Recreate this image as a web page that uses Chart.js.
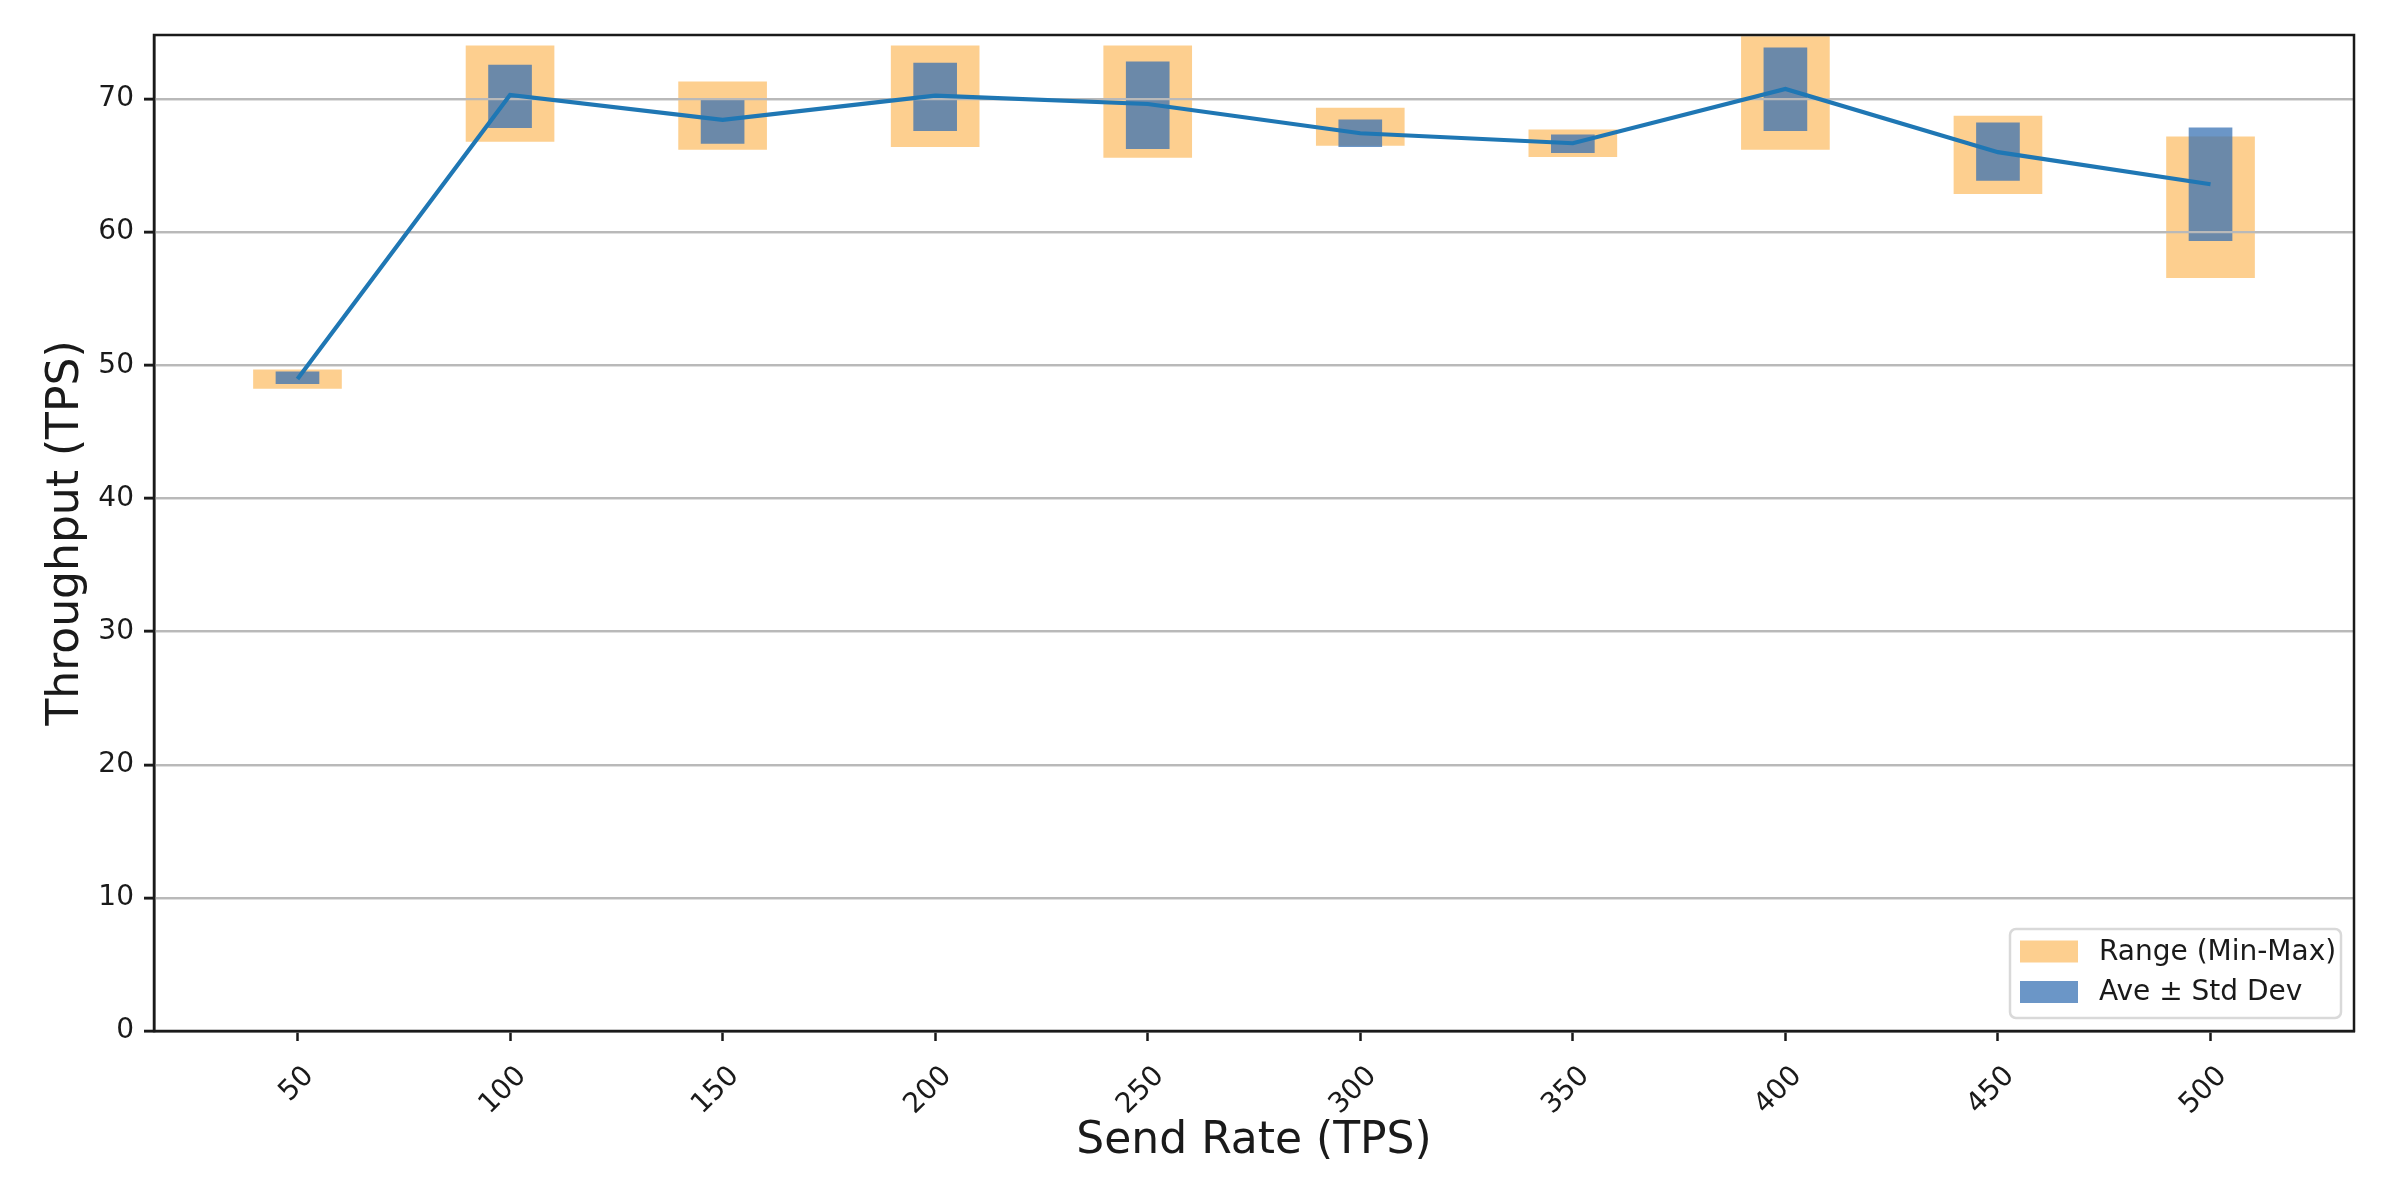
<!DOCTYPE html>
<html>
<head>
<meta charset="utf-8">
<title>Throughput vs Send Rate</title>
<script src="https://cdn.jsdelivr.net/npm/chart.js@4.4.1/dist/chart.umd.min.js"></script>
<style>
  html, body { margin: 0; padding: 0; background: #fff; }
  #wrap { width: 2405px; height: 1188px; }
</style>
</head>
<body>
<div id="wrap"><canvas id="throughputChart" width="2405" height="1188"></canvas></div>
<script>
/* Throughput (TPS) per send rate: min-max range, mean +/- std dev, mean line */

const SEND_RATES = [50, 100, 150, 200, 250, 300, 350, 400, 450, 500];
const RANGE_MIN = [48.25, 66.8, 66.2, 66.42, 65.6, 66.5, 65.67, 66.2, 62.89, 56.58];
const RANGE_MAX = [49.65, 73.98, 71.28, 73.98, 73.98, 69.32, 67.67, 74.68, 68.72, 67.15];
const STD_LOW = [48.62, 67.84, 66.65, 67.62, 66.27, 66.42, 65.97, 67.62, 63.87, 59.36];
const STD_HIGH = [49.5, 72.55, 69.9, 72.7, 72.78, 68.42, 67.3, 73.83, 68.2, 67.82];
const AVERAGE = [48.97, 70.3, 68.42, 70.24, 69.62, 67.42, 66.67, 70.75, 66.0, 63.59];
const Y_TICKS = [0, 10, 20, 30, 40, 50, 60, 70];

const FONT = "'DejaVu Sans', sans-serif";
const INK = "#1a1a1a";
const ORANGE = "rgb(253, 207, 143)";
const BLUE = "rgba(52, 111, 178, 0.73)";
const LINE_BLUE = "#1f77b4";

Chart.defaults.font.family = FONT;
Chart.defaults.color = INK;

// gridlines sit above the bars but below the mean line (matplotlib zorder)
const gridOverBars = {
  id: "gridOverBars",
  beforeDatasetDraw(chart, args) {
    if (args.index === 2) chart.scales.y.drawGrid(chart.chartArea);
  },
};

const frame = {
  id: "frame",
  afterDraw(chart) {
    const { ctx, chartArea: a } = chart;
    ctx.save();
    ctx.strokeStyle = INK;
    ctx.lineWidth = 2.5;
    ctx.strokeRect(a.left, a.top, a.right - a.left, a.bottom - a.top);
    ctx.restore();
  },
};

const insideLegend = {
  id: "insideLegend",
  afterDraw(chart) {
    const { ctx, chartArea } = chart;
    const items = chart.data.datasets.filter((d) => d.type === "bar");
    const boxW = 331, boxH = 89;
    const left = chartArea.right - 13 - boxW;
    const top = chartArea.bottom - 13 - boxH;
    ctx.save();
    ctx.beginPath();
    if (ctx.roundRect) ctx.roundRect(left, top, boxW, boxH, 6);
    else ctx.rect(left, top, boxW, boxH);
    ctx.fillStyle = "rgba(255,255,255,0.8)";
    ctx.fill();
    ctx.lineWidth = 2.5;
    ctx.strokeStyle = "#d9d9d9";
    ctx.stroke();
    ctx.font = `28px ${FONT}`;
    ctx.textBaseline = "middle";
    items.forEach((d, i) => {
      const cy = top + 22.5 + i * 40.5;
      ctx.fillStyle = "#fff";
      ctx.fillRect(left + 10, cy - 11, 58, 22);
      ctx.fillStyle = d.backgroundColor;
      ctx.fillRect(left + 10, cy - 11, 58, 22);
      ctx.fillStyle = INK;
      ctx.fillText(d.label, left + 89, cy + 1);
    });
    ctx.restore();
  },
};

function buildChart() {
  const rangeData = SEND_RATES.map((x, i) => ({ x, y: [RANGE_MIN[i], RANGE_MAX[i]] }));
  const stdData = SEND_RATES.map((x, i) => ({ x, y: [STD_LOW[i], STD_HIGH[i]] }));
  const avgData = SEND_RATES.map((x, i) => ({ x, y: AVERAGE[i] }));

  new Chart(document.getElementById("throughputChart"), {
    type: "bar",
    data: {
      datasets: [
        {
          type: "bar",
          label: "Range (Min-Max)",
          data: rangeData,
          backgroundColor: ORANGE,
          borderWidth: 0,
          barThickness: 88,
          grouped: false,
          order: 3,
        },
        {
          type: "bar",
          label: "Ave \u00B1 Std Dev",
          data: stdData,
          backgroundColor: BLUE,
          borderWidth: 0,
          barThickness: 43,
          grouped: false,
          order: 2,
        },
        {
          type: "line",
          label: "Average",
          data: avgData,
          borderColor: LINE_BLUE,
          borderWidth: 4.2,
          pointRadius: 0,
          tension: 0,
          fill: false,
          order: 1,
        },
      ],
    },
    options: {
      responsive: false,
      animation: false,
      layout: { padding: { top: 35, right: 51, left: 0, bottom: 0 } },
      plugins: { legend: { display: false }, tooltip: { enabled: false } },
      scales: {
        x: {
          type: "linear",
          min: 16.25,
          max: 533.75,
          offset: false,
          afterBuildTicks: (scale) => { scale.ticks = SEND_RATES.map((v) => ({ value: v })); },
          afterFit: (scale) => { scale.height = 157; },
          grid: {
            offset: false,
            drawOnChartArea: false,
            drawTicks: true,
            tickLength: 10,
            tickWidth: 2.5,
            tickColor: INK,
          },
          border: { color: INK, width: 2.5 },
          ticks: {
            autoSkip: false,
            minRotation: 45,
            maxRotation: 45,
            padding: 19,
            labelOffset: 12,
            font: { size: 28 },
          },
          title: {
            display: true,
            text: "Send Rate (TPS)",
            font: { size: 44 },
            padding: { top: 0, bottom: 20 },
          },
        },
        y: {
          min: 0,
          max: 74.8,
          afterBuildTicks: (scale) => { scale.ticks = Y_TICKS.map((v) => ({ value: v })); },
          afterFit: (scale) => { scale.width = 154; },
          grid: {
            color: "#b9b9b9",
            lineWidth: 2.2,
            tickLength: 10,
            tickWidth: 2.5,
            tickColor: INK,
          },
          border: { color: INK, width: 2.5 },
          ticks: { padding: 10, font: { size: 28 } },
          title: {
            display: true,
            text: "Throughput (TPS)",
            font: { size: 44 },
            padding: { top: 40, bottom: 0 },
          },
        },
      },
    },
    plugins: [gridOverBars, frame, insideLegend],
  });
}

document.addEventListener("DOMContentLoaded", buildChart);
</script>
</body>
</html>
